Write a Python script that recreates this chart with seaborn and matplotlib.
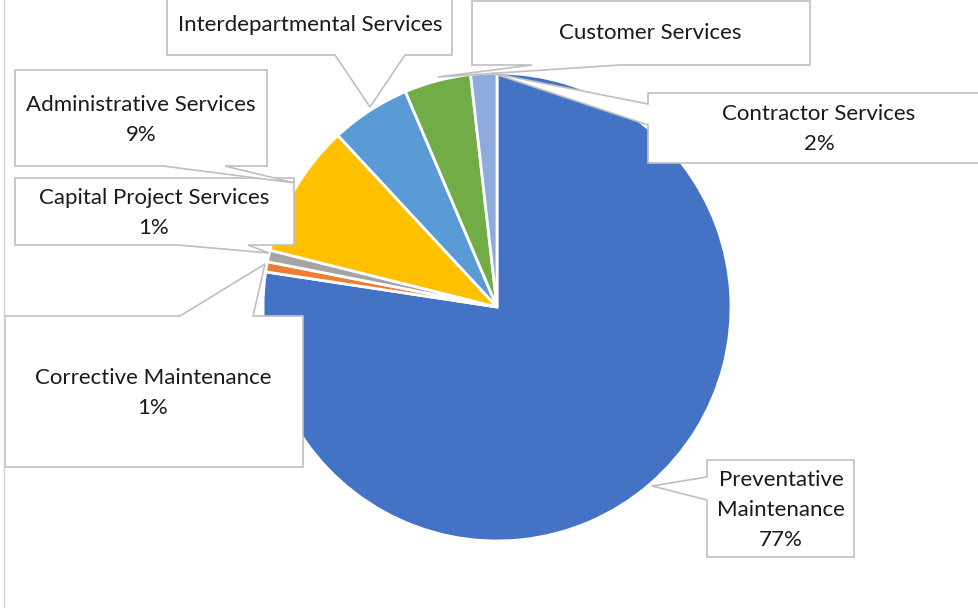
import matplotlib
matplotlib.use("Agg")
import matplotlib.pyplot as plt
from matplotlib.patches import Polygon
import seaborn as sns

# Share of work orders by service type (percent)
categories = [
    "Preventative Maintenance",
    "Corrective Maintenance",
    "Capital Project Services",
    "Administrative Services",
    "Interdepartmental Services",
    "Customer Services",
    "Contractor Services",
]
shares = [77.4, 0.7, 0.8, 9.2, 5.5, 4.6, 1.8]
label_names = [
    "Preventative\nMaintenance",
    "Corrective Maintenance",
    "Capital Project Services",
    "Administrative Services",
    "Interdepartmental Services",
    "Customer Services",
    "Contractor Services",
]
show_percent = [True, True, True, True, False, False, True]

colors = ["#4472C4", "#ED7D31", "#A5A5A5", "#FFC000", "#5B9BD5", "#70AD47", "#8FAADC"]

sns.set_theme(style="white")
plt.rcParams["font.family"] = ["Lato", "DejaVu Sans"]

W, H = 979, 608
CX, CY, R = 497, 307, 234  # pie centre and radius in pixels


def px(x, y):
    """Pixel position (origin top-left) to data coordinates of the pie axes."""
    return ((x - CX) / R, (CY - y) / R)


fig = plt.figure(figsize=(W / 100, H / 100), dpi=100)
ax = fig.add_axes([0, 0, 1, 1])

ax.pie(
    shares,
    colors=colors,
    startangle=90,
    counterclock=False,
    radius=1.0,
    wedgeprops=dict(edgecolor="white", linewidth=2.0),
)
ax.set_xlim(-CX / R, (W - CX) / R)
ax.set_ylim(-(H - CY) / R, CY / R)
ax.set_aspect("auto")
ax.axis("off")

# Callout layout: box (x0, y0, x1, y1), side carrying the pointer, pointer base, pointer tip, text centre
callouts = [
    ((707, 460, 854, 557), "left", (477, 500), (652, 486), (781, 510)),
    ((5, 316, 303, 467), "top", (180, 253), (265, 264), (153, 393)),
    ((15, 178, 294, 245), "bottom", (178, 248), (269, 253), (154, 213)),
    ((15, 70, 267, 166), "bottom", (163, 225), (295, 183), (141, 120)),
    ((167, -10, 452, 55), "bottom", (335, 405), (370, 107), (310, 25)),
    ((472, 1, 810, 65), "bottom", (532, 620), (438, 77), (650, 33)),
    ((648, 93, 995, 163), "left", (104, 125), (492, 73), (819, 129)),
]


def callout_outline(box, side, base, tip):
    x0, y0, x1, y1 = box
    a, b = base
    pts = [(x0, y0)]
    if side == "top":
        pts += [(a, y0), tip, (b, y0)]
    pts += [(x1, y0), (x1, y1)]
    if side == "bottom":
        pts += [(b, y1), tip, (a, y1)]
    pts += [(x0, y1)]
    if side == "left":
        pts += [(x0, b), tip, (x0, a)]
    return [px(*p) for p in pts]


for name, val, show, (box, side, base, tip, tc) in zip(label_names, shares, show_percent, callouts):
    poly = Polygon(
        callout_outline(box, side, base, tip),
        closed=True,
        facecolor="white",
        edgecolor="#BFBFBF",
        linewidth=1.2,
        joinstyle="miter",
        zorder=5,
    )
    ax.add_patch(poly)
    text = f"{name}\n{val:.0f}%" if show else name
    ax.text(*px(*tc), text, ha="center", va="center", fontsize=16,
            color="#1A1A1A", linespacing=1.62, zorder=6)

# left border of the chart area
ax.plot([px(4, 0)[0], px(4, H)[0]], [px(4, 0)[1], px(4, H)[1]], color="#D0D0D0", lw=1.0, zorder=7)

fig.savefig("out.png", dpi=100)
